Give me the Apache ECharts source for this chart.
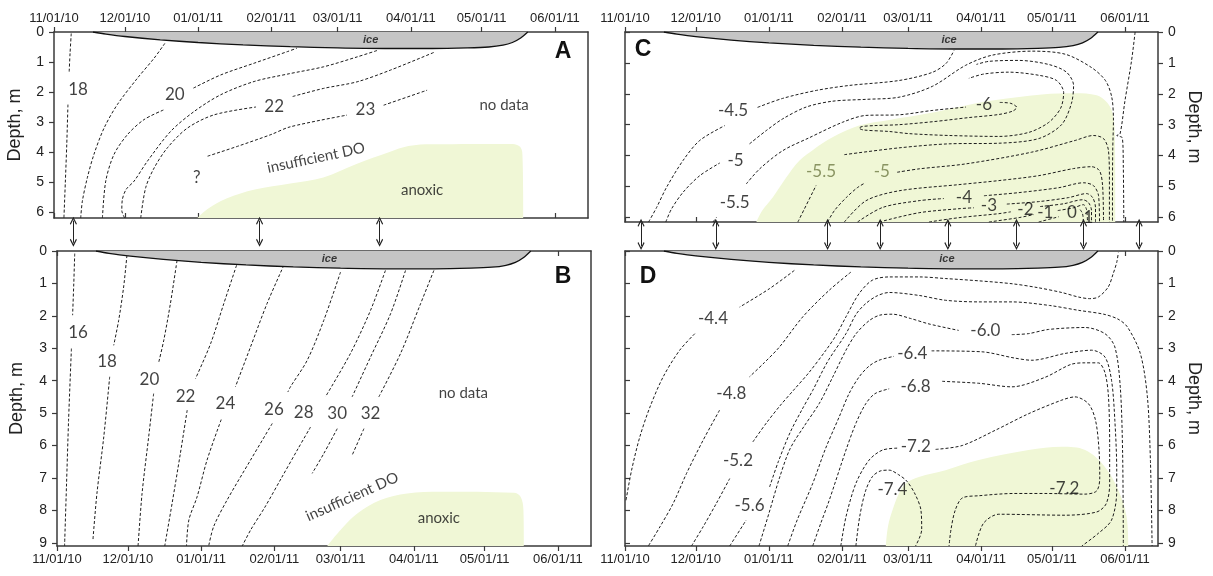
<!DOCTYPE html>
<html><head><meta charset="utf-8">
<script src="https://cdn.jsdelivr.net/npm/echarts@6/dist/echarts.min.js"></script>
<style>html,body{margin:0;padding:0;background:#fff}#c{width:1213px;height:576px}</style>
</head><body><div id="c"></div>
<script>
// ---------- axis data ----------
const DAY_TICKS = [0, 30, 61, 92, 120, 151, 181, 212];       // days since 11/01/10
const DATE_LABELS = ['11/01/10','12/01/10','01/01/11','02/01/11','03/01/11','04/01/11','05/01/11','06/01/11'];
const DEPTH_TICKS_6 = [0,1,2,3,4,5,6];
const DEPTH_TICKS_9 = [0,1,2,3,4,5,6,7,8,9];
const X_MAX = 226;

// ---------- ice (bottom of ice, depth m vs day) ----------
const ICE = [[16.5,0],[22,0.07],[30,0.15],[45,0.26],[61,0.35],[80,0.43],[100,0.49],[120,0.53],[140,0.55],[160,0.55],[175,0.53],[184,0.5],[190,0.44],[194,0.35],[197.5,0.2],[200.5,0]];

// ---------- Panel A ----------
const A_CONTOURS = [
  [[[7.3,0.05],[6.8,0.7],[6.4,1.37]], [[5.9,2.42],[5.4,3.75],[4.8,5.0],[4.2,6.2]]],
  [[[46.9,0.38],[42.4,0.87],[35.3,1.54],[26.8,2.42],[21.2,3.2],[16.9,4.08],[14.1,4.86],[12,5.64],[11.3,6.2]]],
  [[[20.5,6.2],[21.9,4.97],[25.4,4.08],[31.1,3.42],[38.1,2.92],[46.6,2.59]], [[59,1.87],[70.6,1.43],[84.7,1.04],[98.9,0.65],[102.8,0.54]]],
  [[[29.9,6.2],[28.7,5.95],[28.9,5.6],[30.5,5.25],[33.9,4.97],[39.5,4.31],[49.4,3.31],[59.3,2.65],[70.6,2.09],[84.7,1.65],[99,1.4],[114.1,1.16],[128.3,0.83],[137.4,0.6]]],
  [[[36.7,6.2],[38.8,5.19],[42.4,4.53],[48,3.86],[56.5,3.2],[67.8,2.76],[85.5,2.5]], [[101,2.15],[114.1,1.88],[128.3,1.66],[142.4,1.27],[161.4,0.66]]],
  [[[65,4.14],[77.7,3.81],[91.8,3.42],[100,3.16],[124,2.77]], [[139.5,2.44],[157.9,1.94]]]
];
const A_LABELS = [['18',10.2,1.93],['20',51.1,2.09],['22',93.2,2.5],['23',131.8,2.6],['?',60.4,4.85]];
const A_TEXTS = [['no data',190.5,2.44,0],['insufficient DO',110.9,4.2,12],['anoxic',155.8,5.28,0]];
const A_ANOXIC = [[60.7,6.2],[65,5.9],[73,5.55],[85,5.25],[100,5.05],[114,4.85],[128,4.4],[142,4.0],[150,3.8],[160,3.74],[194,3.73],[197.5,3.85],[198.3,4.2],[198.6,6.2]];
const A_ICE_LABEL = [134, 0.27];

// ---------- Panel B ----------
const B_CONTOURS = [
  [[[7.5,0.08],[7.1,1.01],[6.6,1.98]], [[6.1,3.01],[4.9,5.22],[4.0,7.27],[3.2,9.1]]],
  [[[29.6,0.13],[28.2,1.11],[26.1,2.14],[24,2.91]], [[22.3,3.88],[19.8,5.73],[16.9,7.48],[15.2,8.92]]],
  [[[50.8,0.29],[48,1.62],[45.2,2.75],[43.1,3.42]], [[40.9,4.4],[38.8,5.73],[36,7.48],[34.3,9.1]]],
  [[[76,0.44],[70.6,1.62],[65,2.86],[58.6,3.94]], [[55.1,4.91],[52.2,6.25],[48.7,7.79],[45.6,9.1]]],
  [[[96,0.44],[88.9,1.62],[81.9,2.96],[75.5,4.19]], [[69.5,5.2],[63.5,6.45],[59.3,7.58],[55.8,8.3],[54.8,9.1]]],
  [[[120,0.65],[112.9,2.14],[105.9,3.37],[98.8,4.19],[97.7,4.35]], [[91.1,5.32],[81.9,6.45],[72,7.68],[66.3,8.5],[64.2,9.1]]],
  [[[139,0.6],[132.7,1.83],[124.2,3.16],[113.6,4.5]], [[107.3,5.43],[102,6.1],[95,7.0],[88,7.9],[82,8.6],[78.4,9.1]]],
  [[[147.5,0.6],[141.2,1.93],[132.7,3.27],[124.9,4.5]], [[118.6,5.48],[112.9,6.25],[108,6.86]]],
  [[[159.5,0.6],[153.9,1.62],[145.4,3.16],[136.2,4.5]], [[129.9,5.48],[124.9,6.3]]]
];
const B_LABELS = [['16',8.9,2.52],['18',21.2,3.4],['20',39.1,3.97],['22',54.4,4.5],['24',71.3,4.71],['26',91.8,4.88],['28',104.4,4.99],['30',118.6,5.01],['32',132.7,5.01]];
const B_TEXTS = [['no data',172,4.38,0],['insufficient DO',124.9,7.58,24],['anoxic',161.6,8.25,0]];
const B_ANOXIC = [[114.4,9.1],[120,8.61],[127.1,8.1],[136.9,7.68],[148.2,7.48],[162.3,7.43],[193.4,7.46],[196.2,7.58],[197.4,7.99],[197.6,9.1]];
const B_ICE_LABEL = [115.3, 0.25];

// ---------- Panel C ----------
const C_CONTOURS = [
  [[[10,6.15],[13.4,5.68],[17.6,5.03],[24.6,4.16],[31.7,3.51],[42.3,3.03]], [[56.2,2.44],[66.8,2.15],[81.2,1.89],[95.1,1.73],[116.2,1.57],[130.2,1.31],[136.1,1.02],[139.5,0.6]]],
  [[[17.3,6.15],[19.7,5.73],[24.6,5.19],[31.7,4.65],[40.2,4.24]], [[52.8,3.62],[59.9,3.19],[66.9,2.81],[76.8,2.43],[88,2.24],[102.2,2.18],[116.2,2.11],[130.3,1.76],[144.4,1.08],[155.7,0.75],[172.6,0.62],[186.7,0.72],[197.8,1.15],[203.7,1.57],[206.4,2.11],[207.1,2.86],[206.8,3.84],[206.7,5.14],[206.7,6.15]]],
  [[[37.3,6.15],[38.8,6.0]], [[51.4,4.92],[57.1,4.43],[66.9,3.84],[78.2,3.42],[92.3,2.92],[102.2,2.7],[116.2,2.68],[130.2,2.54],[144.6,2.43]],
   [[158.9,2.28],[163.6,2.31],[166.1,2.44],[164.4,2.56],[158.5,2.67],[145.8,2.77],[131,2.9],[116.2,3.0],[105.7,3.03],[100.6,3.06],[99.3,3.11],[101,3.17],[112,3.22],[120.5,3.29],[137.4,3.35],[158.5,3.38],[171.2,3.25],[179.6,2.93],[184.7,2.47],[186,1.96],[183,1.57],[175.4,1.4],[162.7,1.3],[152.2,1.36],[145.8,1.5]]],
  [[[73.3,6.15],[81,4.97]], [[93,3.97],[116.2,3.75],[137.4,3.62],[158.5,3.6],[175.4,3.45],[185.1,3.0],[189.3,2.31],[190.2,1.73],[187.2,1.3],[179.6,1.05],[166.9,0.92],[154.3,0.95],[149,1.05]]],
  [[[85.9,6.15],[88.8,5.78],[93.8,5.36],[98.5,5.04],[101.9,4.88]], [[115.4,4.54],[124.7,4.43],[144.4,4.27],[172.4,3.89],[190.9,3.51],[198.6,3.35],[202.9,3.45],[205,3.84],[205.4,4.81],[205.4,6.15]]],
  [[[93,6.15],[102.2,5.46],[116.2,5.14],[141.6,4.94],[158.5,4.81],[175.4,4.65],[190.2,4.42],[197.8,4.36],[201.2,4.49],[202.5,4.97],[202.9,6.15]]],
  [[[98.6,6.15],[109.2,5.68],[124.7,5.46],[135.2,5.39]], [[152.2,5.3],[166.9,5.2],[183.9,5.04],[194.4,4.88],[198.6,4.97],[200.8,5.3],[201.2,6.15]]],
  [[[107.8,6.15],[124.7,5.85],[141.6,5.72],[147.9,5.69]], [[161.9,5.57],[175.4,5.49],[188.1,5.36],[195.7,5.23],[198.3,5.36],[199.5,5.69],[199.5,6.15]]],
  [[[128.9,6.15],[141.6,6.01],[158.5,5.88],[163.6,5.82]], [[176,5.65],[186,5.56],[194,5.43],[196.5,5.52],[197.8,5.78],[197.8,6.15]]],
  [[[154.3,6.15],[166.9,6.01],[173.3,5.91]], [[183.5,5.78],[190.2,5.69],[194.4,5.59],[195.7,5.75],[196.1,6.15]]],
  [[[175.4,6.15],[183.9,5.98]], [[193,5.75],[194,5.88],[194.4,6.15]]],
  [[[216.3,0],[214.8,0.92],[212,2.22],[209.9,3.3],[208.5,3.35],[210.9,3.43],[211.3,4.38],[211.5,6.15]]]
];
const OLIVE = '#6f7a45';
const C_LABELS = [['-4.5',45.8,2.54],['-5',46.9,4.16],['-5.5',46.5,5.51],['-6',152.2,2.35],['-5.5',83.1,4.51,OLIVE],['-5',108.9,4.51,OLIVE],
  ['-4',143.7,5.35],['-3',154.3,5.62],['-2',169.8,5.73],['-1',178.2,5.84],['0',189.5,5.84],['1',196.5,6.02]];
const C_ANOXIC = [[55.7,6.15],[58,5.8],[62.7,5.35],[68,4.75],[74,4.16],[80,3.8],[88,3.41],[99.3,3.03],[112,2.85],[127.5,2.65],[140,2.45],[155.7,2.22],[176.8,2.02],[190.9,1.98],[200,2.05],[204,2.25],[206.4,2.54],[207.5,3.0],[207.8,3.84],[207.9,6.15]];
const C_ICE_LABEL = [137.4, 0.25];

// ---------- Panel D ----------
const D_CONTOURS = [
  [[[71.8,0.6],[61.3,1.16],[48.6,1.73]], [[29.6,2.55],[23.2,3.06],[16.2,3.88],[10.6,4.81],[6.3,5.73],[2.8,6.76],[0.4,7.7]]],
  [[[95.8,0.65],[86.6,1.21],[75.4,2.03],[65.5,2.96],[59,3.45],[52.8,3.88]], [[40.1,4.91],[33.1,5.84],[26.1,6.86],[20.4,7.79],[14.8,8.51],[9.9,9.1]]],
  [[[28.2,9.1],[33.1,8.51],[38.7,7.79],[44.4,7.02]], [[54.2,5.89],[60,5.3],[66,4.75],[72,4.25],[78,3.75],[85.2,3.06],[89.5,2.6],[93.7,2.03],[99.3,1.31],[104.9,0.9],[112,0.8],[125,0.8],[136,0.85],[150,0.92],[164.1,1.01],[175,1.13],[185.2,1.28],[192.3,1.42],[197,1.47],[200.7,1.42],[204.9,1.11],[207,0.7],[208.5,0.35],[209.2,0.05]]],
  [[[44.4,9.1],[51.4,8.3]], [[61.3,7.28],[65,6.5],[70,5.6],[75,4.9],[79.6,4.3],[86,3.4],[93.7,2.55],[98,1.95],[102.1,1.62],[107,1.38],[112,1.28],[124.6,1.37],[135.9,1.52],[150,1.57],[164.1,1.57],[180,1.68],[192.3,1.83],[203,1.95],[209,2.1],[213,2.34],[218.5,3.16],[221.5,4.5],[222.8,6.5],[223.5,9.1]]],
  [[[56.8,9.1],[61,8.1],[65.5,7.0],[70,6.1],[76,5.4],[82.4,4.7],[88,3.9],[93.7,3.06],[98,2.55],[103.5,2.15],[108,1.98],[113.4,1.95],[121,2.08],[128.9,2.25],[141.5,2.45]], [[164,2.58],[171,2.55],[179.6,2.42],[195.1,2.36],[203.5,2.55],[207.7,2.96],[210,4.19],[211,6.25],[211.3,9.1]]],
  [[[69,9.1],[73,8.3],[79.6,7.17],[85,6.1],[90.8,5.12],[95,4.4],[99.3,3.88],[103.5,3.55],[107.7,3.37],[114,3.25]], [[130,3.08],[151.4,3.11],[165,3.3],[172.5,3.37],[186.6,3.16],[197.9,3.06],[203.5,3.27],[206.3,3.99],[207.7,5.22],[208.5,6.76],[208.5,7.4],[206.3,8.3],[200.7,8.71],[193.7,9.1]]],
  [[[79.6,9.1],[83,8.4],[86.6,7.69],[93.7,6.14],[98,5.3],[102.1,4.71],[106,4.4],[112,4.25]], [[134.5,4.02],[150,4.08],[164,4.19],[178,3.9],[189,3.5],[195,3.45],[200.7,3.45],[203.5,3.75],[205,4.5],[205.5,6],[205.5,7.2],[204,7.8],[200,8.05],[186.6,8.15],[158.5,8.12],[152,8.4],[148.6,9.1]]],
  [[[91.5,9.1],[93.7,8.2],[97.9,7.17],[103.5,6.45],[109.2,6.14],[116,6.08]], [[131.7,6.12],[143,6.0],[157,5.53],[171.1,5.02],[185.2,4.6],[190.8,4.5],[196.5,4.71],[199.5,5.22],[201,6.14],[201.3,7.0],[200,7.4],[195,7.5],[178,7.48],[165,7.48],[150,7.55],[143,7.62],[140,8.0],[138.2,8.6],[137.4,9.1]]],
  [[[97.9,9.1],[99.5,8.2],[102,7.4],[105,6.95],[108.5,6.78],[112,6.76],[116,6.9],[119.5,7.1],[123,7.5],[125.5,8.0],[125.8,8.6],[123.2,9.1]]]
];
const D_LABELS = [['-4.4',37.3,2.09],['-4.8',45.1,4.4],['-5.2',47.9,6.45],['-5.6',52.8,7.84],['-6.0',152.8,2.45],['-6.4',121.8,3.16],['-6.8',123.2,4.19],['-7.2',123.3,6.04],['-7.4',113.4,7.35],['-7.2',186.3,7.32]];
const D_ANOXIC = [[110.6,9.1],[111.5,8.5],[113.4,8.0],[116,7.5],[119,7.17],[124.6,6.97],[135.9,6.76],[150,6.45],[171.1,6.14],[185.2,6.04],[195.1,6.14],[203.5,6.66],[209.2,7.38],[212.7,8.2],[213.4,9.1]];
const D_ICE_LABEL = [136.5, 0.25];

// sampling-date arrows (days)
const ARROWS_AB = [8.2, 87, 137.8];
const ARROWS_CD = [6.8, 38.5, 85.9, 108.2, 136.9, 166, 194.4, 218];

// ---------- styling ----------
const FRAME = '#3a3a3a';
const LINE = '#1c1c1c';
const GREEN = '#f0f7d6';
const ICE_FILL = '#c5c5c5';
const TICK_FONT = 'Liberation Sans';
const LABEL_FONT = 'Lato';
const TICK_STYLE = {fontSize:13, color:'#222', fontFamily:TICK_FONT};

const PANELS = [
  {grid:{left:54, top:32, width:534, height:186}, ymax:6.2, yTicks:DEPTH_TICKS_6, xPos:'top', yPos:'left', nameGap:30, otherYTicks:false},
  {grid:{left:57, top:251, width:534, height:295}, ymax:9.1, yTicks:DEPTH_TICKS_9, xPos:'bottom', yPos:'left', nameGap:31, otherYTicks:false},
  {grid:{left:625, top:32, width:533, height:190}, ymax:6.15, yTicks:DEPTH_TICKS_6, xPos:'top', yPos:'right', nameGap:27, otherYTicks:true},
  {grid:{left:625, top:251, width:533, height:295}, ymax:9.1, yTicks:DEPTH_TICKS_9, xPos:'bottom', yPos:'right', nameGap:27, otherYTicks:true}
];

const grids = PANELS.map(p => p.grid).concat([
  {left:54, top:218, width:534, height:33},
  {left:625, top:222, width:533, height:29}
]);

const xAxes = [], yAxes = [];
PANELS.forEach((p, g) => {
  const other = p.xPos === 'top' ? 'bottom' : 'top';
  [[p.xPos, true], [other, false]].forEach(([pos, main]) => {
    xAxes.push({
      type:'value', gridIndex:g, position:pos, min:0, max:X_MAX,
      axisLine:{show:true, onZero:false, lineStyle:{color:FRAME, width:1.5}},
      axisTick:{show:true, inside:!main, length:5, customValues:DAY_TICKS, lineStyle:{color:FRAME, width:1.2}},
      axisLabel:Object.assign({show:main, customValues:DAY_TICKS, margin:7,
        formatter: v => DATE_LABELS[DAY_TICKS.indexOf(v)] || '',
        textStyle:TICK_STYLE}, TICK_STYLE),
      splitLine:{show:false}
    });
  });
  const otherY = p.yPos === 'left' ? 'right' : 'left';
  [[p.yPos, true], [otherY, false]].forEach(([pos, main]) => {
    yAxes.push({
      type:'value', gridIndex:g, position:pos, min:0, max:p.ymax, inverse:true,
      name: main ? 'Depth, m' : '', nameLocation:'middle', nameGap:p.nameGap,
      nameRotate: p.yPos === 'right' ? -90 : 90,
      nameTextStyle:{fontSize:18, color:'#222', fontFamily:TICK_FONT},
      axisLine:{show:true, onZero:false, lineStyle:{color:FRAME, width:1.5}},
      axisTick:{show: main || p.otherYTicks, inside:!main, length:5, customValues:p.yTicks, lineStyle:{color:FRAME, width:1.2}},
      axisLabel:Object.assign({show:main, customValues:p.yTicks, margin:10}, TICK_STYLE, {fontSize:14}),
      splitLine:{show:false}
    });
  });
});
// arrow grids (hidden axes)
[4,5].forEach(g => {
  xAxes.push({type:'value', gridIndex:g, min:0, max:X_MAX, show:false});
  yAxes.push({type:'value', gridIndex:g, min:0, max:1, show:false});
});

const series = [];
function addPanel(p, contours, labels, texts, anoxic, iceLabel) {
  const xi = 2*p, yi = 2*p;
  if (anoxic) series.push({type:'line', xAxisIndex:xi, yAxisIndex:yi, data:anoxic, symbol:'none', smooth:0.35,
    lineStyle:{width:0, color:GREEN}, areaStyle:{color:GREEN, opacity:1, origin:'end'}, z:1, silent:true});
  contours.forEach(c => c.forEach(seg => series.push({type:'line', xAxisIndex:xi, yAxisIndex:yi, data:seg,
    symbol:'none', smooth:0.3, lineStyle:{type:[3,2], width:1, color:LINE}, z:3, silent:true})));
  series.push({type:'line', xAxisIndex:xi, yAxisIndex:yi, data:ICE, symbol:'none', smooth:0.3,
    lineStyle:{width:1.3, color:'#111'}, areaStyle:{color:ICE_FILL, opacity:1, origin:'start'}, z:4, silent:true});
  const items = labels.map(l => ({name:l[0], value:[l[1], l[2]], label:{color:l[3] || '#111'}}));
  texts.forEach(t => items.push({name:t[0], value:[t[1], t[2]], label:{fontSize:15, rotate:t[3], color:'#111'}}));
  items.push({name:'ice', value:iceLabel, label:{fontSize:11, fontStyle:'italic', fontWeight:'bold', color:'#111', fontFamily:TICK_FONT}});
  series.push({type:'scatter', xAxisIndex:xi, yAxisIndex:yi, data:items, symbolSize:1, clip:false,
    itemStyle:{color:'rgba(0,0,0,0)'}, silent:true, z:6,
    label:{show:true, position:'inside', formatter:'{b}', fontSize:17, fontFamily:LABEL_FONT, color:'#111'}});
}
addPanel(0, A_CONTOURS, A_LABELS, A_TEXTS, A_ANOXIC, A_ICE_LABEL);
addPanel(1, B_CONTOURS, B_LABELS, B_TEXTS, B_ANOXIC, B_ICE_LABEL);
addPanel(2, C_CONTOURS, C_LABELS, [], C_ANOXIC, C_ICE_LABEL);
addPanel(3, D_CONTOURS, D_LABELS, [], D_ANOXIC, D_ICE_LABEL);

const ARROW = 'path://M5,0 L10,8 L8.8,9 L5,3 L1.2,9 L0,8 Z';
function arrowSeries(ai, days, y0, y1) {
  return {type:'line', xAxisIndex:ai, yAxisIndex:ai, data:[], silent:true,
    markLine:{silent:true, animation:false, symbol:[ARROW, ARROW], symbolSize:[7,8], label:{show:false},
      lineStyle:{color:'#222', width:1, type:'solid'},
      data: days.map(d => [{coord:[d, y0]}, {coord:[d, y1]}])}};
}
series.push(arrowSeries(8, ARROWS_AB, 0.92, 0.25));
series.push(arrowSeries(9, ARROWS_CD, 0.97, 0.17));

const letter = (t, x, y) => ({type:'text', x, y, z:10, style:{text:t, fontSize:23, fontWeight:'bold', fontFamily:TICK_FONT, fill:'#111', align:'center', verticalAlign:'middle'}});

const chart = echarts.init(document.getElementById('c'));
chart.setOption({
  animation:false,
  backgroundColor:'#fff',
  textStyle:{fontFamily:TICK_FONT, fontSize:13},
  grid:grids, xAxis:xAxes, yAxis:yAxes, series,
  graphic:[letter('A',563,52), letter('B',563,277), letter('C',643,50), letter('D',648,277)]
});
</script></body></html>
